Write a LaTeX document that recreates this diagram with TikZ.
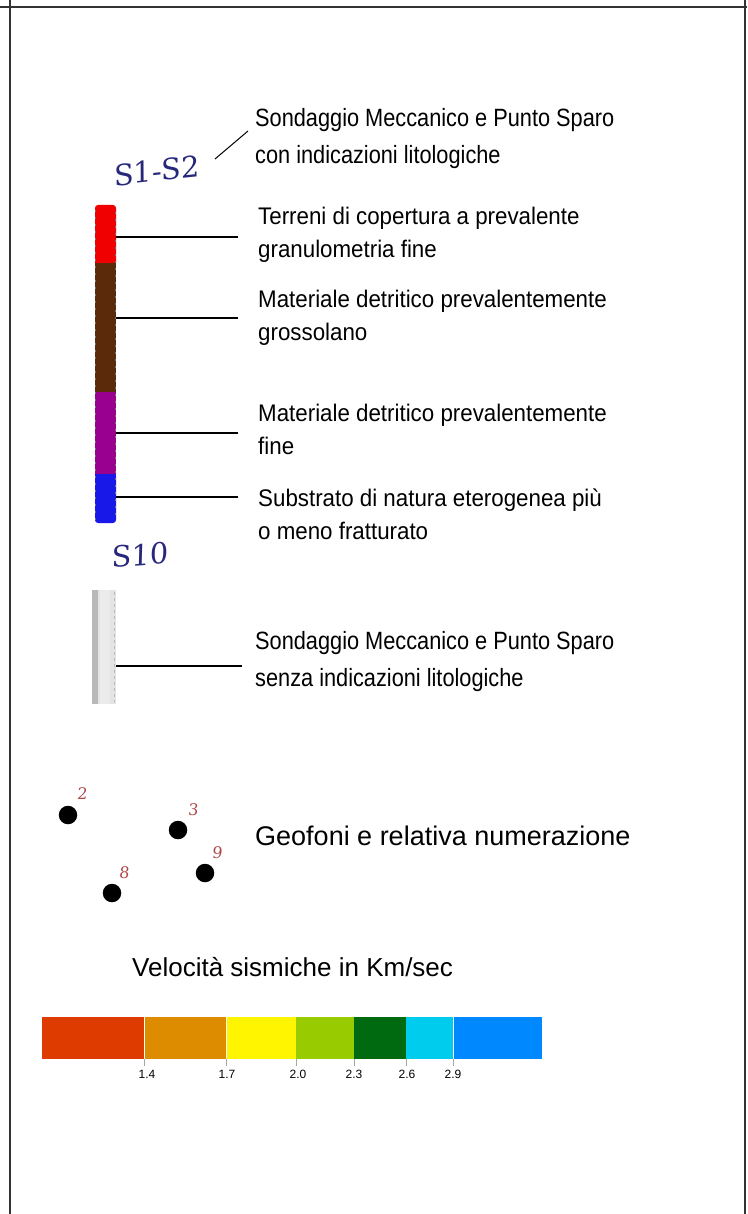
\documentclass[tikz,border=0pt]{standalone}
\usepackage{fontspec}
\setmainfont{Liberation Sans}
\newfontfamily\fmain[FakeStretch=0.87]{Liberation Sans}
\newfontfamily\fsmall[FakeStretch=0.93]{Liberation Sans}
\newfontfamily\fhand[FakeSlant=0.1]{DejaVu Serif}
\definecolor{frame}{HTML}{333333}
\definecolor{handblue}{HTML}{28287A}
\definecolor{handred}{HTML}{B04848}
\definecolor{cRed}{HTML}{F00000}
\definecolor{cBrown}{HTML}{5A2A0A}
\definecolor{cPurple}{HTML}{99008F}
\definecolor{cBlue}{HTML}{1818E8}
\definecolor{gLight}{HTML}{E4E4E4}
\definecolor{gDark}{HTML}{B8B8B8}
\definecolor{v1}{HTML}{DD3B00}
\definecolor{v2}{HTML}{DD8C00}
\definecolor{v3}{HTML}{FFF500}
\definecolor{v4}{HTML}{99CC00}
\definecolor{v5}{HTML}{006A10}
\definecolor{v6}{HTML}{00CCEE}
\definecolor{v7}{HTML}{0088FF}
\begin{document}
\begin{tikzpicture}[x=1pt,y=-1pt,
  bigtext/.style={anchor=base west,inner sep=0pt,font=\fmain\fontsize{25}{30}\selectfont},
  smalltext/.style={anchor=base west,inner sep=0pt,font=\fsmall\fontsize{24}{28}\selectfont},
  plaintext/.style={anchor=base west,inner sep=0pt,font=\fontsize{27}{32}\selectfont},
  leader/.style={draw=black,line width=1.3pt},
  handlabel/.style={inner sep=0pt,text=handblue,font=\fhand\fontsize{29}{32}\selectfont},
  geonum/.style={inner sep=0pt,text=handred,font=\fhand\fontsize{16}{18}\selectfont},
  geodot/.style={circle,fill=black,minimum size=18.5pt,inner sep=0pt},
  ticklabel/.style={inner sep=0pt,font=\fontsize{12}{14}\selectfont}]
\useasboundingbox (0,0) rectangle (747,1214);
% frame
\draw[frame,line width=2.2pt] (10,0) -- (10,1214);
\draw[frame,line width=2.2pt] (745,0) -- (745,1214);
\draw[frame,line width=2.2pt] (0,7) -- (747,7);

% S1-S2 label and leader
\node[handlabel,rotate=6] (s1s2) at (156,171) {S1-S2};
\node[bigtext] (t1a) at (255,127) {Sondaggio Meccanico e Punto Sparo};
\node[bigtext] (t1b) at (255,164) {con indicazioni litologiche};
\coordinate (d1) at (215,159);
\coordinate (d2) at (248,131);
\draw[line width=1pt] (d1) -- (d2);

% coloured borehole
\fill[cRed,rounded corners=3pt] (95,205) rectangle (116,266);
\fill[cRed] (95,250) rectangle (116,263);
\fill[cBrown] (95,263) rectangle (116,392);
\fill[cPurple] (95,392) rectangle (116,474);
\fill[cBlue,rounded corners=3pt] (95,474) rectangle (116,523);
\fill[cBlue] (95,474) rectangle (116,490);
\draw[black!55,line width=1.2pt,dash pattern=on 2pt off 5pt] (95.5,210) -- (95.5,520);
\draw[black!55,line width=1.2pt,dash pattern=on 2pt off 5pt] (115.5,212) -- (115.5,520);

\coordinate (l1a) at (116,237); \coordinate (l1b) at (238,237);
\coordinate (l2a) at (116,318); \coordinate (l2b) at (238,318);
\coordinate (l3a) at (116,433); \coordinate (l3b) at (238,433);
\coordinate (l4a) at (116,497); \coordinate (l4b) at (238,497);
\draw[leader] (l1a) -- (l1b);
\draw[leader] (l2a) -- (l2b);
\draw[leader] (l3a) -- (l3b);
\draw[leader] (l4a) -- (l4b);

\node[smalltext] (a1) at (258,225) {Terreni di copertura a prevalente};
\node[smalltext] (a2) at (258,258) {granulometria fine};
\node[smalltext] (b1) at (258,307) {Materiale detritico prevalentemente};
\node[smalltext] (b2) at (258,340) {grossolano};
\node[smalltext] (c1) at (258,421) {Materiale detritico prevalentemente};
\node[smalltext] (c2) at (258,454) {fine};
\node[smalltext] (e1) at (258,506) {Substrato di natura eterogenea più};
\node[smalltext] (e2) at (258,539) {o meno fratturato};

% S10
\node[handlabel,rotate=4] (s10) at (139,555) {S10};
\fill[gLight] (92,590) rectangle (116,704);
\fill[gDark] (92,590) rectangle (98,704);
\fill[white!92!black] (100,590) rectangle (110,704);
\draw[gDark,line width=1.5pt,dash pattern=on 3pt off 3pt] (114.5,592) -- (114.5,702);
\coordinate (g1) at (116,666); \coordinate (g2) at (242,666);
\draw[leader] (g1) -- (g2);
\node[bigtext] (t2a) at (255,649) {Sondaggio Meccanico e Punto Sparo};
\node[bigtext] (t2b) at (255,686) {senza indicazioni litologiche};

% geophones
\node[geodot] (p2) at (68,815) {};
\node[geodot] (p3) at (178,830) {};
\node[geodot] (p9) at (205,873) {};
\node[geodot] (p8) at (112,893) {};
\node[geonum] (n2) at (82,794) {2};
\node[geonum] (n3) at (193,810) {3};
\node[geonum] (n9) at (217,853) {9};
\node[geonum] (n8) at (124,873) {8};
\node[plaintext] (geo) at (255,845) {Geofoni e relativa numerazione};

% velocity bar
\node[anchor=base west,inner sep=0pt,font=\fontsize{26}{30}\selectfont] (vtitle) at (132,976) {Velocità sismiche in Km/sec};
\fill[v1] (42,1017) rectangle (144,1059);
\fill[v2] (145,1017) rectangle (226,1059);
\fill[v3] (227,1017) rectangle (296,1059);
\fill[v4] (296,1017) rectangle (354,1059);
\fill[v5] (354,1017) rectangle (406,1059);
\fill[v6] (406,1017) rectangle (453,1059);
\fill[v7] (454,1017) rectangle (542,1059);
\foreach \xx in {144.5,226.5,296,354,406,453.5}
  \draw[black!35,line width=0.6pt] (\xx,1059) -- (\xx,1066);
\node[ticklabel] (k1) at (147,1074) {1.4};
\node[ticklabel] (k2) at (227,1074) {1.7};
\node[ticklabel] (k3) at (298,1074) {2.0};
\node[ticklabel] (k4) at (354,1074) {2.3};
\node[ticklabel] (k5) at (407,1074) {2.6};
\node[ticklabel] (k6) at (453,1074) {2.9};
\end{tikzpicture}
\end{document}
